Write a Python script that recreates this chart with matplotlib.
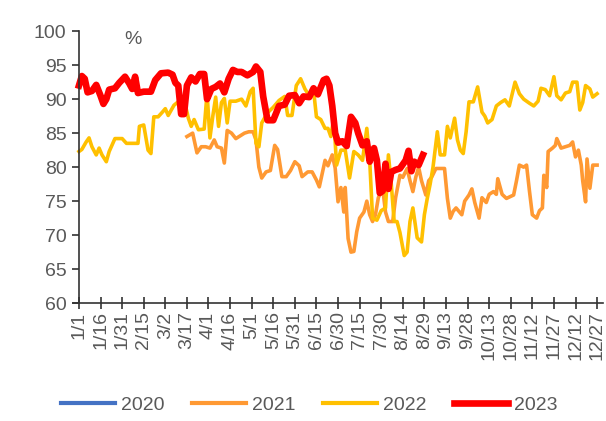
import numpy as np
import matplotlib
matplotlib.use("Agg")
import matplotlib.pyplot as plt

# day of year (0 = 1/1) and values, in %
days_2020 = []
vals_2020 = []

days_2021 = [75, 79, 82, 85, 88, 91, 94, 96, 99, 101, 103, 106, 109, 112, 115, 118, 121, 123,
             125, 127, 130, 133, 136, 138, 141, 144, 147, 150, 153, 155, 159, 162, 165, 167,
             171, 173, 176, 178, 180, 182, 184, 185, 187, 189, 191, 193, 195, 198, 200, 202,
             204, 206, 208, 211, 213, 215, 218, 220, 223, 225, 228, 230, 232, 234, 236, 238,
             241, 243, 245, 248, 251, 254, 256, 258, 260, 262, 264, 266, 268, 271, 273, 275,
             278, 280, 283, 285, 288, 290, 291, 294, 297, 299, 302, 304, 306, 309, 311, 313,
             315, 318, 320, 322, 323, 325, 326, 329, 331, 332, 335, 338, 341, 343, 345, 347,
             349, 350, 352, 353, 355, 357, 360]
vals_2021 = [84.5, 85.0, 82.1, 83.0, 83.0, 82.8, 84.0, 83.0, 82.8, 80.6, 85.4, 85.0, 84.2, 84.6,
             85.0, 85.2, 85.2, 84.0, 80.0, 78.4, 79.3, 79.5, 83.2, 82.6, 78.6, 78.6, 79.5, 80.8,
             80.2, 78.6, 79.3, 79.3, 78.1, 77.1, 81.0, 80.2, 81.8, 79.9, 74.9, 77.0, 73.4, 77.0,
             69.5, 67.5, 67.6, 70.5, 72.5, 73.4, 75.0, 73.0, 72.0, 73.0, 75.5, 76.9, 73.4, 72.0,
             72.0, 75.5, 78.8, 78.5, 79.8, 78.0, 76.4, 78.5, 80.0, 78.0, 75.9, 78.0, 78.5, 79.8,
             79.8, 79.8, 75.4, 72.5, 73.5, 74.0, 73.5, 73.0, 75.0, 75.9, 76.8, 74.8, 72.5, 75.5,
             74.8, 76.0, 76.4, 76.0, 78.3, 76.0, 75.4, 75.6, 75.9, 78.0, 80.3, 80.0, 80.3, 76.5,
             73.0, 72.5, 73.6, 74.0, 78.8, 77.0, 82.3, 82.8, 83.2, 84.2, 82.8, 83.0, 83.2, 83.7,
             81.5, 82.5, 80.3, 78.0, 74.9, 81.2, 76.9, 80.3, 80.3]

days_2022 = [0, 2, 5, 7, 9, 12, 14, 16, 19, 21, 25, 30, 33, 37, 41, 42, 45, 48, 50, 52, 55, 58,
             60, 62, 66, 70, 73, 76, 78, 80, 83, 87, 89, 91, 93, 95, 97, 99, 101, 103, 105, 109,
             113, 116, 119, 121, 123, 125, 127, 131, 135, 139, 143, 145, 148, 151, 154, 157,
             160, 163, 165, 168, 171, 173, 175, 177, 179, 182, 185, 188, 191, 194, 197, 200,
             202, 204, 207, 210, 213, 215, 217, 219, 221, 223, 226, 228, 230, 232, 235, 238,
             240, 242, 244, 246, 249, 251, 254, 256, 258, 261, 263, 265, 267, 269, 271, 274,
             277, 280, 282, 284, 287, 290, 293, 296, 299, 303, 306, 309, 313, 316, 319, 321,
             324, 327, 330, 332, 335, 338, 341, 343, 346, 348, 350, 352, 355, 357, 360]
vals_2022 = [82.3, 82.6, 83.7, 84.3, 83.0, 81.8, 82.8, 81.8, 80.8, 82.3, 84.2, 84.2, 83.5, 83.5,
             83.5, 86.0, 86.2, 82.5, 82.0, 87.4, 87.4, 88.1, 88.6, 87.6, 89.1, 89.8, 90.0, 87.2,
             86.0, 87.0, 85.5, 85.6, 90.9, 84.3, 87.5, 90.3, 86.0, 89.5, 90.1, 86.5, 89.7, 89.7,
             90.0, 89.0, 91.1, 91.6, 83.5, 83.0, 86.5, 88.0, 88.8, 89.8, 90.4, 87.6, 87.6, 92.0,
             93.0, 91.5, 90.5, 91.3, 87.4, 87.0, 85.7, 85.7, 84.5, 87.2, 80.3, 82.5, 82.5, 78.4,
             82.3, 81.8, 81.0, 85.7, 81.0, 72.5, 72.2, 73.6, 74.0, 81.8, 77.5, 72.0, 72.0, 70.4,
             67.0, 67.5, 72.0, 74.0, 69.6, 69.0, 73.0, 75.4, 77.5, 80.0, 85.2, 81.8, 81.8, 86.0,
             84.3, 87.2, 84.0, 82.5, 82.0, 85.2, 89.6, 89.6, 91.8, 88.1, 87.5, 86.5, 87.0, 89.0,
             89.5, 89.9, 89.0, 92.5, 90.8, 90.0, 89.4, 89.0, 89.7, 91.6, 91.4, 90.5, 93.3, 90.5,
             89.9, 90.9, 91.1, 92.5, 92.5, 88.4, 89.5, 92.0, 91.5, 90.3, 90.8]

days_2023 = [0, 2, 4, 6, 9, 12, 15, 17, 19, 21, 25, 28, 32, 35, 37, 39, 41, 45, 50, 53, 57, 62,
             65, 67, 69, 71, 73, 75, 78, 81, 84, 87, 89, 92, 95, 98, 101, 104, 107, 110, 113,
             117, 121, 123, 126, 128, 131, 135, 139, 143, 146, 150, 153, 156, 160, 163, 166,
             170, 172, 174, 176, 178, 180, 183, 186, 189, 192, 194, 197, 200, 202, 205, 207,
             209, 211, 213, 215, 217, 220, 223, 227, 229, 231, 233, 236, 239]
vals_2023 = [92.0, 93.4, 93.0, 91.0, 91.2, 92.1, 90.5, 89.3, 90.0, 91.4, 91.6, 92.4, 93.3, 92.3,
             91.5, 93.3, 90.9, 91.1, 91.1, 92.8, 93.8, 93.9, 93.6, 92.4, 92.0, 87.8, 87.8, 92.0,
             93.2, 92.6, 93.7, 93.7, 90.0, 91.5, 91.8, 92.3, 91.0, 93.0, 94.3, 94.0, 94.0, 93.5,
             94.0, 94.8, 94.0, 90.4, 86.9, 86.9, 89.0, 89.2, 90.5, 90.6, 89.4, 90.4, 90.3, 91.6,
             90.7, 92.8, 93.0, 92.0, 89.0, 85.0, 83.6, 83.8, 83.1, 87.4, 86.5, 85.0, 83.2, 83.8,
             80.8, 82.8, 81.0, 76.2, 76.5, 80.5, 76.8, 79.3, 79.6, 79.8, 81.0, 82.4, 79.4, 80.8,
             80.3, 81.8]

tick_days = list(range(0, 361, 15))
tick_labels = ["1/1", "1/16", "1/31", "2/15", "3/2", "3/17", "4/1", "4/16", "5/1", "5/16",
               "5/31", "6/15", "6/30", "7/15", "7/30", "8/14", "8/29", "9/13", "9/28",
               "10/13", "10/28", "11/12", "11/27", "12/12", "12/27"]

plt.rcParams['font.family'] = ['Liberation Sans', 'DejaVu Sans']
grey = '#595959'

fig = plt.figure(figsize=(6.06, 4.21), dpi=100)
ax = fig.add_axes([0.1208, 0.280, 0.874, 0.646])

ax.plot(days_2020, vals_2020, color='#4472C4', lw=2.6, label='2020')
ax.plot(days_2021, vals_2021, color='#FF9933', lw=2.6, label='2021')
ax.plot(days_2022, vals_2022, color='#FFC000', lw=2.6, label='2022')
ax.plot(days_2023, vals_2023, color='#FF0000', lw=4.8, label='2023')

ax.set_xlim(-4, 364)
ax.set_ylim(60, 100)
ax.set_yticks(range(60, 101, 5))
ax.set_xticks(tick_days)
ax.set_xticklabels(tick_labels, rotation=90)
ax.spines['top'].set_visible(False)
ax.spines['right'].set_visible(False)
for s in ['left', 'bottom']:
    ax.spines[s].set_color('#333333')
    ax.spines[s].set_linewidth(1.2)
ax.spines['left'].set_position(('data', 0))
ax.tick_params(axis='x', direction='inout', length=8, width=1.2, color='#333333',
               labelsize=14, labelcolor=grey, pad=2)
ax.tick_params(axis='y', direction='out', length=5, width=1.2, color='#333333',
               labelsize=14, labelcolor=grey, pad=4)

fig.text(133 / 606, 1 - 40 / 421, '%', fontsize=14, color=grey, ha='center', va='center')

leg = fig.legend(loc='center', bbox_to_anchor=(0.51, 1 - 405 / 421), ncol=4, frameon=False,
                 fontsize=14, handlelength=2.8, columnspacing=1.4, handletextpad=0.3)
for t in leg.get_texts():
    t.set_color(grey)
for h in leg.get_lines():
    h.set_linewidth(3 if h.get_label() != '2023' else 4.8)

fig.savefig("out.png", dpi=100)
